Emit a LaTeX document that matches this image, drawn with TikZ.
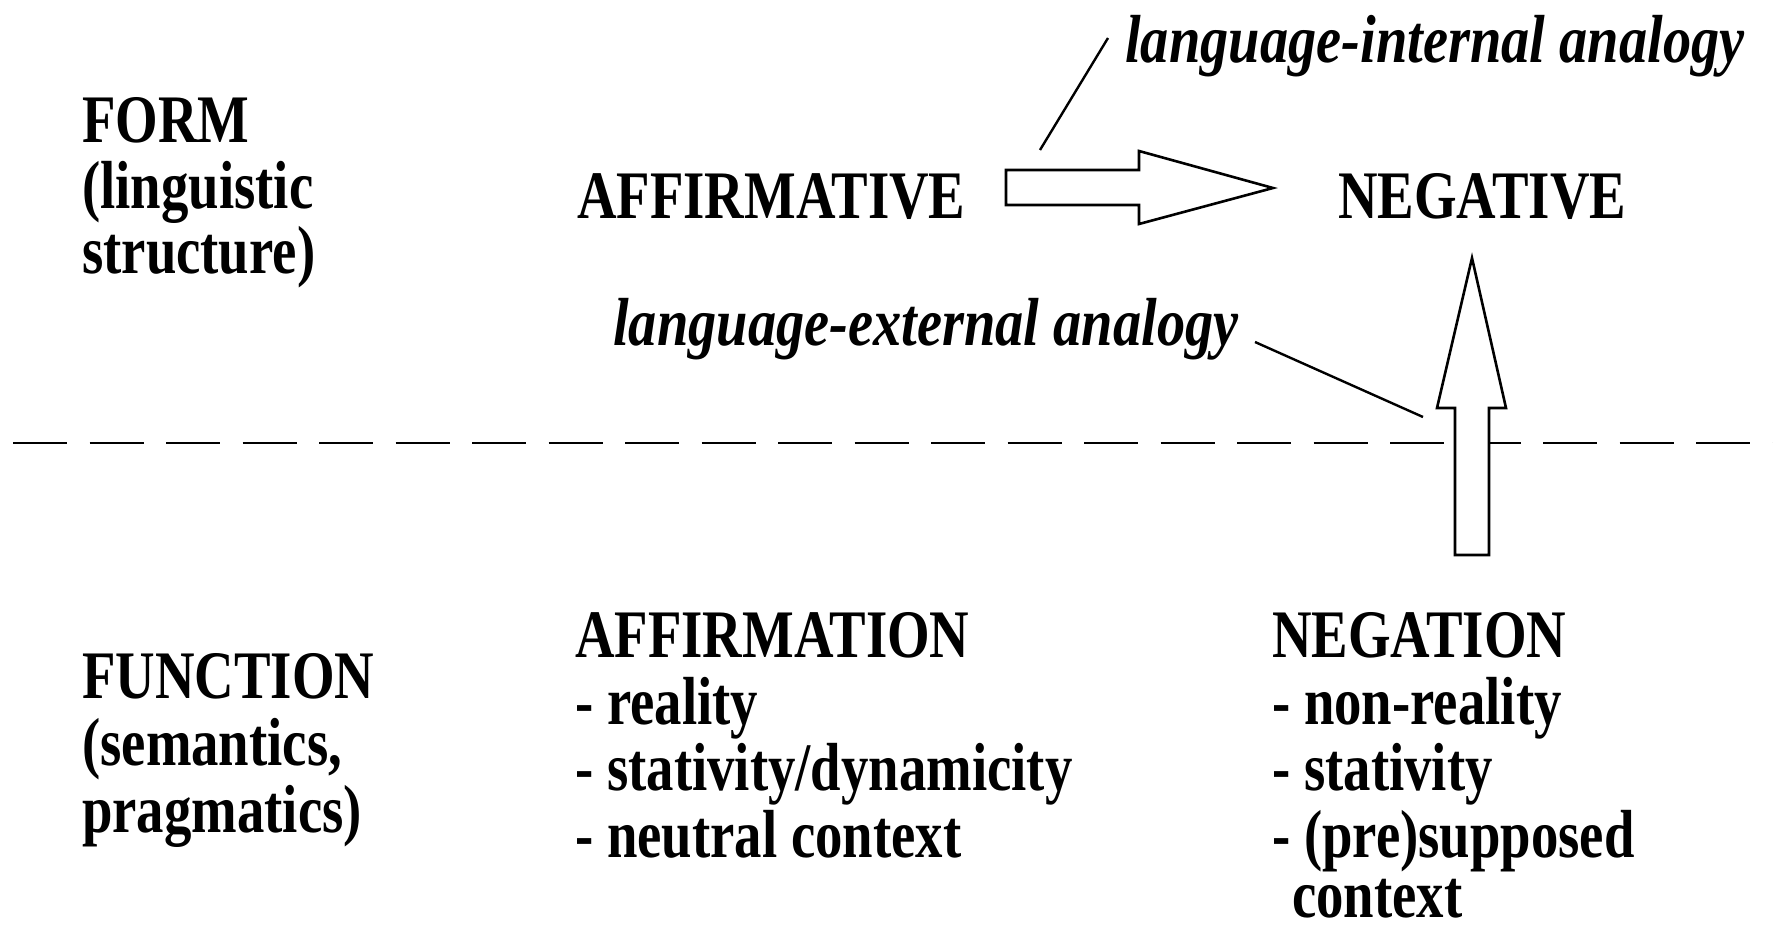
\documentclass[tikz,border=0pt]{standalone}
\usepackage{fontspec}
\setmainfont{Liberation Serif}[FakeStretch=0.805]
\newfontfamily\itfam{Liberation Serif}[FakeStretch=0.83]
\begin{document}
\begin{tikzpicture}[x=1pt,y=-1pt,
  txt/.style={anchor=base west,inner sep=0pt,font=\fontsize{68}{68}\selectfont\bfseries},
  ittxt/.style={anchor=base west,inner sep=0pt,font=\itfam\fontsize{68}{68}\selectfont\bfseries\itshape},
  bigarrow/.style={draw=black,fill=white,line width=2.6pt,line join=miter},
  leader/.style={draw=black,line width=2.4pt},
  divider/.style={draw=black,line width=2.8pt,dash pattern=on 54pt off 22.5pt}]
\useasboundingbox (0,0) rectangle (1773,926);
% divider
\coordinate (dl) at (13,443);
\coordinate (dr) at (1773,443);
\draw[divider] (dl) -- (dr);
% left labels
\node[txt] (form1) at (82,142) {FORM};
\node[txt] (form2) at (82,208) {(linguistic};
\node[txt] (form3) at (82,273) {structure)};
\node[txt] (func1) at (82,698) {FUNCTION};
\node[txt] (func2) at (82,765) {(semantics,};
\node[txt] (func3) at (82,832) {pragmatics)};
% form row
\node[txt] (affve) at (577,218) {AFFIRMATIVE};
\node[txt] (negve) at (1338,218) {NEGATIVE};
% function row
\node[txt] (affn1) at (575,657) {AFFIRMATION};
\node[txt] (affn2) at (575,724) {- reality};
\node[txt] (affn3) at (575,790) {- stativity/dynamicity};
\node[txt] (affn4) at (575,857) {- neutral context};
\node[txt] (negn1) at (1272,657) {NEGATION};
\node[txt] (negn2) at (1272,724) {- non-reality};
\node[txt] (negn3) at (1272,790) {- stativity};
\node[txt] (negn4) at (1272,857) {- (pre)supposed};
\node[txt] (negn5) at (1292,917) {context};
% analogy labels
\node[ittxt] (intl) at (1125,62) {language-internal analogy};
\node[ittxt] (extl) at (613,345) {language-external analogy};
% horizontal arrow
\coordinate (ha) at (1006,188);
\draw[bigarrow] (ha) ++(0,-18) -- ++(133,0) -- ++(0,-19) -- (1273,188) -- (1139,224) -- ++(0,-19) -- ++(-133,0) -- cycle;
% vertical arrow
\coordinate (va) at (1472,555);
\draw[bigarrow] (va) ++(-17,0) -- ++(0,-147) -- ++(-18,0) -- (1472,258) -- (1506,408) -- ++(-17,0) -- ++(0,147) -- cycle;
% leaders
\coordinate (il1) at (1040,150);
\coordinate (il2) at (1108,38);
\draw[leader] (il1) -- (il2);
\coordinate (el1) at (1255,342);
\coordinate (el2) at (1423,417);
\draw[leader] (el1) -- (el2);
\end{tikzpicture}
\end{document}
